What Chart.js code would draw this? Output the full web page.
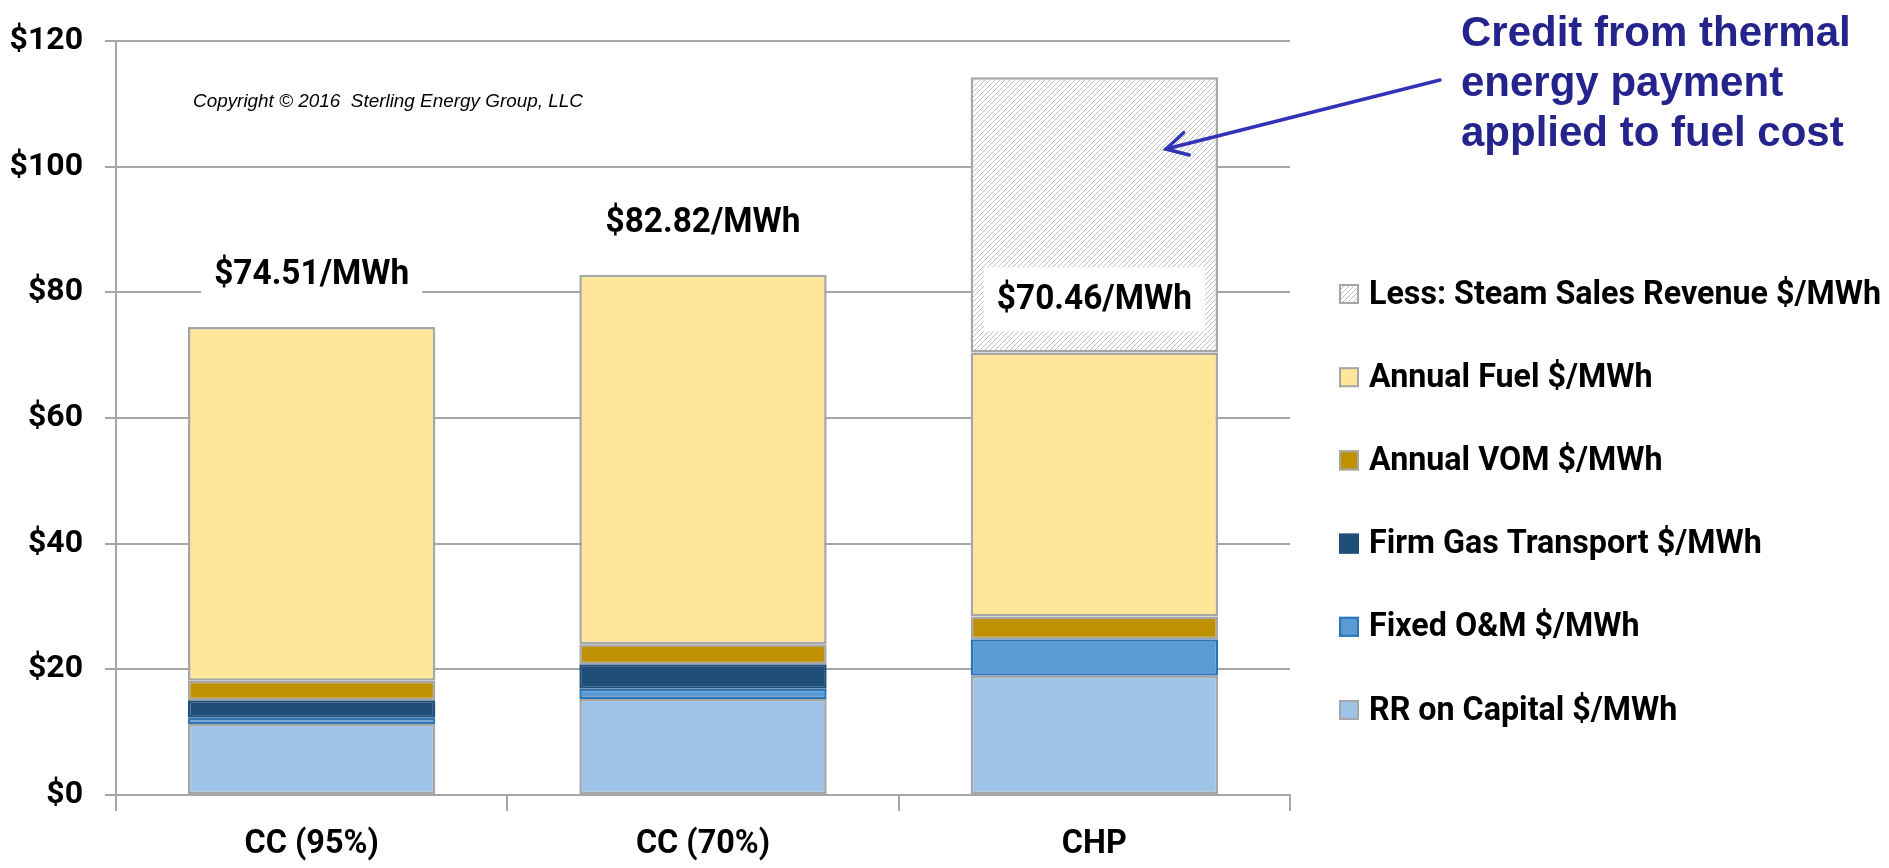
<!DOCTYPE html>
<html>
<head>
<meta charset="utf-8">
<script src="https://cdn.jsdelivr.net/npm/chart.js@4.4.0/dist/chart.umd.min.js"></script>
<style>
html,body{margin:0;padding:0;background:#fff;}
#wrap{width:1889px;height:868px;position:relative;}
</style>
</head>
<body>
<div id="wrap"><canvas id="c" width="1889" height="868"></canvas></div>
<script>
// ---- data ----
const categories   = ['CC (95%)', 'CC (70%)', 'CHP'];
const rrCapital    = [11.3, 15.3, 19.0];
const fixedOM      = [1.0, 1.6, 5.8];
const firmGas      = [2.8, 3.9, 0];
const annualVOM    = [3.1, 3.2, 3.6];
const annualFuel   = [56.31, 58.82, 42.06];
const steamRevenue = [null, null, 43.8];
const totalLabels  = ['$74.51/MWh', '$82.82/MWh', '$70.46/MWh'];
const seriesNames  = ['RR on Capital $/MWh', 'Fixed O&M $/MWh', 'Firm Gas Transport $/MWh',
                      'Annual VOM $/MWh', 'Annual Fuel $/MWh', 'Less: Steam Sales Revenue $/MWh'];
const yMin = 0, yMax = 120, yStep = 20;
const noteLines = ['Credit from thermal', 'energy payment', 'applied to fuel cost'];
const copyrightText = 'Copyright \u00A9 2016  Sterling Energy Group, LLC';

const FAM = 'Roboto, "Liberation Sans", sans-serif';
const canvas = document.getElementById('c');
const ctx = canvas.getContext('2d');

function measure(text, font) {
  ctx.save(); ctx.font = font; const w = ctx.measureText(text).width; ctx.restore(); return w;
}
function fitFont(text, weight, style, family, targetWidth) {
  const w = measure(text, style + ' ' + weight + ' 100px ' + family);
  return Math.round(1000 * targetWidth / w) / 10;
}
const tickSize = Math.round(fitFont('$120', 'bold', 'normal', FAM, 68) * 1.08 * 10) / 10;
const xLabSize = Math.round(fitFont('CC (95%)', 'bold', 'normal', FAM, 127) * 1.06 * 10) / 10;

// condensed text styles for overlay text (real text, horizontally scaled)
const valFont = 'bold 35px ' + FAM;
const valScale = 195 / measure('$74.51/MWh', valFont);
const legFont = 'bold 34px ' + FAM;
const legScale = 512 / measure('Less: Steam Sales Revenue $/MWh', legFont);

function drawScaled(c, text, x, y, sx, align) {
  c.save();
  c.translate(x, y);
  c.scale(sx, 1);
  c.textAlign = align;
  c.fillText(text, 0, 0);
  c.restore();
}

function makeHatch() {
  const s = 5;
  const p = document.createElement('canvas');
  p.width = s; p.height = s;
  const g = p.getContext('2d');
  g.fillStyle = '#ffffff';
  g.fillRect(0, 0, s, s);
  g.strokeStyle = '#c0c0c0';
  g.lineWidth = 1;
  g.beginPath();
  g.moveTo(0, s); g.lineTo(s, 0);
  g.moveTo(-1, 1); g.lineTo(1, -1);
  g.moveTo(s - 1, s + 1); g.lineTo(s + 1, s - 1);
  g.stroke();
  return ctx.createPattern(p, 'repeat');
}
const hatch = makeHatch();

const GRAY = '#a6a6a6';
const fills   = ['#9dc3e6', '#5b9bd5', '#1f4e79', '#bf9000', '#ffe699', hatch];
const borders = [GRAY, '#2e75b6', '#1f4e79', GRAY, GRAY, GRAY];
const values  = [rrCapital, fixedOM, firmGas, annualVOM, annualFuel, steamRevenue];

const datasets = values.map((v, i) => ({
  label: seriesNames[i],
  data: v,
  backgroundColor: fills[i],
  borderColor: borders[i],
  borderWidth: 2.5,
  borderSkipped: false,
  barPercentage: 0.632,
  categoryPercentage: 1.0
}));

const overlay = {
  id: 'overlay',
  afterDatasetsDraw(chart) {
    const c = chart.ctx;
    const xs = chart.scales.x, ys = chart.scales.y;
    c.save();
    c.font = valFont;
    c.textBaseline = 'middle';
    for (let i = 0; i < categories.length; i++) {
      let net = 0;
      for (let d = 0; d < 5; d++) net += (values[d][i] || 0);
      const x = xs.getPixelForValue(i);
      const y = ys.getPixelForValue(net) - 53;
      const w = c.measureText(totalLabels[i]).width * valScale + 26;
      c.fillStyle = '#ffffff';
      c.fillRect(x - w / 2, y - 32, w, 64);
      c.fillStyle = '#000000';
      drawScaled(c, totalLabels[i], x, y + 1, valScale, 'center');
    }
    c.restore();
  },
  afterDraw(chart) {
    const c = chart.ctx;
    c.save();
    // legend (reversed order)
    const lx = 1339, tx = 1369;
    let ly = 294;
    c.font = legFont;
    c.textBaseline = 'middle';
    for (let k = chart.data.datasets.length - 1; k >= 0; k--) {
      const ds = chart.data.datasets[k];
      c.fillStyle = ds.backgroundColor;
      c.fillRect(lx, ly - 10, 20, 20);
      c.strokeStyle = ds.borderColor;
      c.lineWidth = 2;
      c.strokeRect(lx + 1, ly - 9, 18, 18);
      c.fillStyle = '#000';
      drawScaled(c, ds.label, tx, ly + 1, legScale, 'left');
      ly += 83.2;
    }
    // copyright
    const cf = fitFont(copyrightText, 'normal', 'italic', '"Liberation Sans", sans-serif', 391);
    c.font = 'italic normal ' + cf + 'px "Liberation Sans", sans-serif';
    c.fillStyle = '#000';
    c.textAlign = 'left';
    c.textBaseline = 'middle';
    c.fillText(copyrightText, 193, 102);
    // annotation text
    c.fillStyle = '#24248c';
    c.font = 'bold 42px "Liberation Sans", Arial, sans-serif';
    c.textBaseline = 'alphabetic';
    const bases = [46, 96, 146];
    noteLines.forEach((t, i) => c.fillText(t, 1461, bases[i]));
    // arrow
    const x0 = 1440, y0 = 80, x1 = 1166, y1 = 149;
    c.strokeStyle = '#3333b8';
    c.lineWidth = 3.5;
    c.lineCap = 'round';
    c.beginPath(); c.moveTo(x0, y0); c.lineTo(x1, y1); c.stroke();
    const ang = Math.atan2(y0 - y1, x0 - x1);
    const L = 24, a = 0.5;
    c.beginPath();
    c.moveTo(x1 + L * Math.cos(ang + a), y1 + L * Math.sin(ang + a));
    c.lineTo(x1, y1);
    c.lineTo(x1 + L * Math.cos(ang - a), y1 + L * Math.sin(ang - a));
    c.stroke();
    c.restore();
  }
};

new Chart(canvas, {
  type: 'bar',
  data: { labels: categories, datasets: datasets },
  options: {
    responsive: false,
    animation: false,
    layout: { padding: { top: 36, right: 599, left: 0, bottom: 0 } },
    plugins: { legend: { display: false }, tooltip: { enabled: false } },
    scales: {
      x: {
        stacked: true,
        grid: { drawOnChartArea: false, drawTicks: true, tickLength: 16, color: GRAY, lineWidth: 2 },
        border: { color: GRAY, width: 2 },
        ticks: { color: '#000', padding: 14, font: { family: FAM, size: xLabSize, weight: 'bold' } },
        afterFit(s) { s.height = 73; }
      },
      y: {
        stacked: true,
        min: yMin, max: yMax,
        grid: { color: GRAY, lineWidth: 2, tickLength: 11 },
        border: { color: GRAY, width: 2 },
        ticks: { stepSize: yStep, color: '#000', padding: 22,
                 font: { family: FAM, size: tickSize, weight: 'bold' },
                 callback: v => '$' + v },
        afterFit(s) { s.width = 116; }
      }
    }
  },
  plugins: [overlay]
});
</script>
</body>
</html>
